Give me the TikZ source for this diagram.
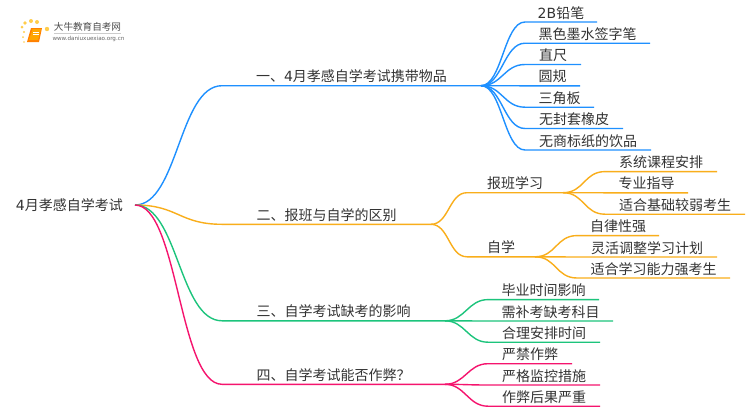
\documentclass[tikz,border=0pt]{standalone}
\usepackage{fontspec}
\setmainfont{Noto Sans CJK SC}
\newfontfamily\latf{DejaVu Sans}
\definecolor{cblue}{HTML}{1E90FF}
\definecolor{corange}{HTML}{F9AE1B}
\definecolor{cgreen}{HTML}{1CC47C}
\definecolor{cpink}{HTML}{F5146E}
\definecolor{ctext}{HTML}{333333}
\newcommand{\kid}[4]{\draw[#1] (#2.south east) .. controls +(#4,0) and +(-#4,0) .. (#3.south west) -- (#3.south east);}
\tikzset{
 lbl/.style={anchor=south west,inner xsep=0pt,inner ysep=0pt,outer sep=0pt,text height=12pt,text depth=4pt,font=\fontsize{14pt}{14pt}\selectfont,text=ctext},
 blueln/.style={cblue,line width=1.4pt},
 orangeln/.style={corange,line width=1.4pt},
 greenln/.style={cgreen,line width=1.4pt},
 pinkln/.style={cpink,line width=1.4pt}
}
\begin{document}
\begin{tikzpicture}[x=1pt,y=-1pt]
\useasboundingbox (0,0) rectangle (750,410);
\fill[white] (0,0) rectangle (750,410);
% logo
\foreach \a/\b/\r in {24/32/1.2,22/27/1.5,25/23/1.8,31/21/2,37/22/2,47/29/2.2,23/37/1,24/42/.8}
  \fill[orange!55!yellow,opacity=.7] (\a,\b) circle (\r);
\fill[orange] (27,42) -- (31,28) -- (42,28) -- (39,42) -- cycle;
\fill[orange!70!yellow] (29,40) -- (32.5,29) -- (41,29) -- (38,40) -- cycle;
\draw[white,line width=.5pt] (33,32) -- (39,32) (32.5,34) -- (38.5,34);
\node[inner sep=0pt,text=black!70,font=\fontsize{9.6pt}{10pt}\selectfont] (lg1) at (87.5,27) {大牛教育自考网};
\draw[black!20,line width=.4pt] (54,33) -- (121,33);
\node[inner sep=0pt,text=black!60,font=\latf\fontsize{5.6pt}{6pt}\selectfont] (lg2) at (88.5,38.5) {www.daniuxuexiao.org.cn};
% root
\node[anchor=east,inner sep=0pt,minimum width=131pt,text height=12pt,text depth=2pt,font=\fontsize{14pt}{14pt}\selectfont,text=ctext] (root) at (135,205) {{\latf 4}月孝感自学考试};
% level 1
\node[lbl,minimum width=259pt] (b1) at (222,85.7) {一、{\latf 4}月孝感自学考试携带物品};
\node[lbl,minimum width=209pt] (b2) at (222,224.3) {二、报班与自学的区别};
\node[lbl,minimum width=223pt] (b3) at (222,320.8) {三、自学考试缺考的影响};
\node[lbl,minimum width=223pt] (b4) at (222,384.3) {四、自学考试能否作弊？};
% level 2 blue
\node[lbl,minimum width=72pt] (a1) at (525,22) {{\latf 2B}铅笔};
\node[lbl,minimum width=125pt] (a2) at (525,43.2) {黑色墨水签字笔};
\node[lbl,minimum width=56pt] (a3) at (525,64.5) {直尺};
\node[lbl,minimum width=55pt] (a4) at (525,85.8) {圆规};
\node[lbl,minimum width=69pt] (a5) at (525,107.2) {三角板};
\node[lbl,minimum width=98pt] (a6) at (525,128.5) {无封套橡皮};
\node[lbl,minimum width=126pt] (a7) at (525,150) {无商标纸的饮品};
% level 2 orange
\node[lbl,minimum width=96pt] (o1) at (467,192.7) {报班学习};
\node[lbl,minimum width=68pt] (o2) at (467,256.8) {自学};
\node[lbl,minimum width=112pt] (p1) at (605,171.6) {系统课程安排};
\node[lbl,minimum width=83pt] (p2) at (605,192.8) {专业指导};
\node[lbl,minimum width=140pt] (p3) at (605,214.2) {适合基础较弱考生};
\node[lbl,minimum width=82pt] (q1) at (577,235.6) {自律性强};
\node[lbl,minimum width=140pt] (q2) at (577,257) {灵活调整学习计划};
\node[lbl,minimum width=153pt] (q3) at (577,278) {适合学习能力强考生};
% level 2 green
\node[lbl,minimum width=111pt] (g1) at (488,299.6) {毕业时间影响};
\node[lbl,minimum width=125pt] (g2) at (488,321) {需补考缺考科目};
\node[lbl,minimum width=112pt] (g3) at (488,342.2) {合理安排时间};
% level 2 pink
\node[lbl,minimum width=84pt] (r1) at (488,363.7) {严禁作弊};
\node[lbl,minimum width=112pt] (r2) at (488,385) {严格监控措施};
\node[lbl,minimum width=112pt] (r3) at (488,406.2) {作弊后果严重};
% connectors
\foreach \c in {a1,a2,a3,a4,a5,a6,a7} {\kid{blueln}{b1}{\c}{21}}
\foreach \c in {o1,o2} {\kid{orangeln}{b2}{\c}{18}}
\foreach \c in {p1,p2,p3} {\kid{orangeln}{o1}{\c}{21}}
\foreach \c in {q1,q2,q3} {\kid{orangeln}{o2}{\c}{21}}
\foreach \c in {g1,g2,g3} {\kid{greenln}{b3}{\c}{20}}
\foreach \c in {r1,r2,r3} {\kid{pinkln}{b4}{\c}{20}}
\draw[blueln] (root.east) .. controls +(43,0) and +(-43,0) .. (b1.south west) -- (b1.south east);
\draw[orangeln] (root.east) .. controls +(43,0) and +(-43,0) .. (b2.south west) -- (b2.south east);
\draw[greenln] (root.east) .. controls +(43,0) and +(-43,0) .. (b3.south west) -- (b3.south east);
\draw[pinkln] (root.east) .. controls +(43,0) and +(-43,0) .. (b4.south west) -- (b4.south east);
\end{tikzpicture}
\end{document}
